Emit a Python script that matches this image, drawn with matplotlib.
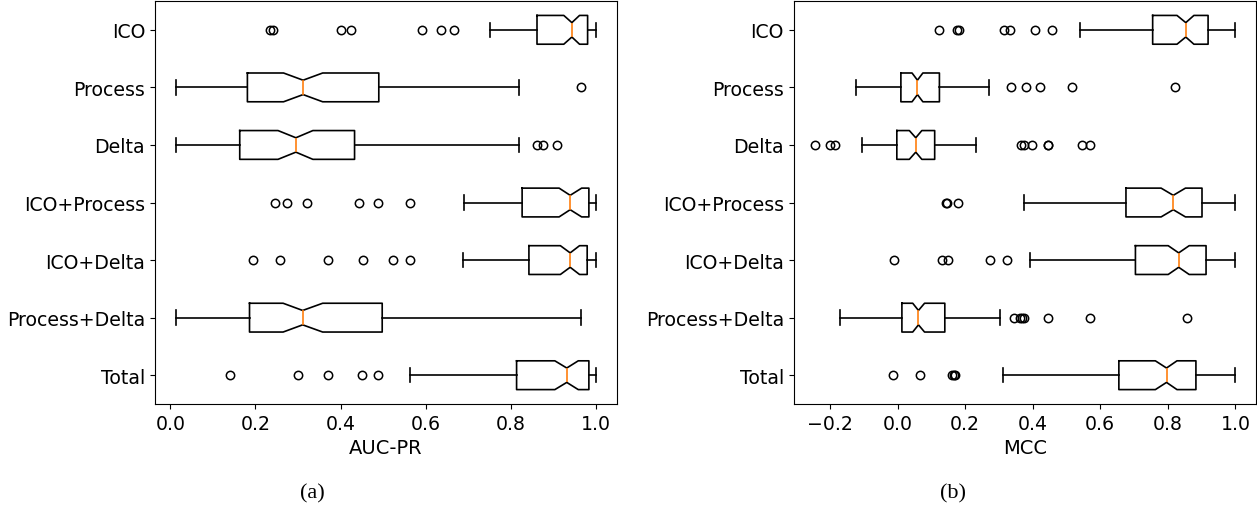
import matplotlib
matplotlib.use("Agg")
from matplotlib import pyplot as plt

labels = ["ICO", "Process", "Delta", "ICO+Process", "ICO+Delta", "Process+Delta", "Total"]

# AUC-PR box stats (one entry per label)
auc_q1 = [0.862, 0.181, 0.163, 0.827, 0.843, 0.186, 0.814]
auc_med = [0.944, 0.312, 0.295, 0.940, 0.940, 0.311, 0.932]
auc_q3 = [0.981, 0.490, 0.433, 0.984, 0.980, 0.498, 0.984]
auc_lo = [0.751, 0.0125, 0.0125, 0.690, 0.688, 0.0125, 0.563]
auc_hi = [1.0, 0.819, 0.819, 1.0, 1.0, 0.966, 1.0]
auc_cilo = [0.925, 0.266, 0.253, 0.914, 0.917, 0.265, 0.904]
auc_cihi = [0.962, 0.358, 0.335, 0.967, 0.962, 0.358, 0.959]
auc_fliers = [
    [0.233, 0.241, 0.400, 0.425, 0.591, 0.636, 0.666],
    [0.965],
    [0.862, 0.876, 0.909],
    [0.246, 0.273, 0.321, 0.443, 0.488, 0.564],
    [0.194, 0.258, 0.371, 0.452, 0.523, 0.564],
    [],
    [0.139, 0.301, 0.371, 0.450, 0.487],
]

# MCC box stats
mcc_q1 = [0.755, 0.010, -0.002, 0.676, 0.704, 0.013, 0.655]
mcc_med = [0.853, 0.059, 0.054, 0.816, 0.832, 0.062, 0.796]
mcc_q3 = [0.919, 0.124, 0.110, 0.901, 0.913, 0.140, 0.883]
mcc_lo = [0.540, -0.122, -0.106, 0.374, 0.393, -0.171, 0.313]
mcc_hi = [1.0, 0.271, 0.231, 1.0, 1.0, 0.304, 1.0]
mcc_cilo = [0.827, 0.043, 0.035, 0.780, 0.801, 0.045, 0.763]
mcc_cihi = [0.877, 0.075, 0.072, 0.852, 0.863, 0.080, 0.827]
mcc_fliers = [
    [0.123, 0.176, 0.181, 0.316, 0.332, 0.408, 0.457],
    [0.336, 0.379, 0.423, 0.516, 0.821],
    [-0.245, -0.200, -0.184, 0.365, 0.373, 0.399, 0.445, 0.446, 0.545, 0.571],
    [0.144, 0.147, 0.178],
    [-0.009, 0.133, 0.148, 0.274, 0.325],
    [0.344, 0.363, 0.368, 0.373, 0.445, 0.571, 0.857],
    [-0.012, 0.068, 0.161, 0.166, 0.169],
]


def make_stats(q1, med, q3, lo, hi, cilo, cihi, fliers):
    stats = []
    for i in range(len(labels)):
        stats.append(dict(label=labels[i], q1=q1[i], med=med[i], q3=q3[i],
                          whislo=lo[i], whishi=hi[i], cilo=cilo[i], cihi=cihi[i],
                          fliers=fliers[i]))
    return stats


fig = plt.figure(figsize=(12.57, 5.10), dpi=100)
ax1 = fig.add_axes([0.1231, 0.2059, 0.3675, 0.7901])
ax2 = fig.add_axes([0.6314, 0.2059, 0.3682, 0.7901])

panels = [
    (ax1, make_stats(auc_q1, auc_med, auc_q3, auc_lo, auc_hi, auc_cilo, auc_cihi, auc_fliers), "AUC-PR"),
    (ax2, make_stats(mcc_q1, mcc_med, mcc_q3, mcc_lo, mcc_hi, mcc_cilo, mcc_cihi, mcc_fliers), "MCC"),
]

lw = 1.2
for ax, stats, xlabel in panels:
    ax.bxp(stats, positions=range(1, len(labels) + 1), orientation="horizontal",
           shownotches=True,
           boxprops=dict(linewidth=lw), whiskerprops=dict(linewidth=lw),
           capprops=dict(linewidth=lw), medianprops=dict(linewidth=lw),
           flierprops=dict(markeredgewidth=1.1))
    ax.invert_yaxis()
    ax.set_xlabel(xlabel, fontsize=14)
    ax.tick_params(labelsize=13.6)

ax1.set_xticks([0.0, 0.2, 0.4, 0.6, 0.8, 1.0])
ax2.set_xticks([-0.2, 0.0, 0.2, 0.4, 0.6, 0.8, 1.0])

fig.text(312 / 1257, 1 - 494 / 510, "(a)", ha="center", va="center",
         fontsize=16, family="Liberation Serif")
fig.text(953 / 1257, 1 - 494 / 510, "(b)", ha="center", va="center",
         fontsize=16, family="Liberation Serif")

fig.savefig("out.png", dpi=100)
